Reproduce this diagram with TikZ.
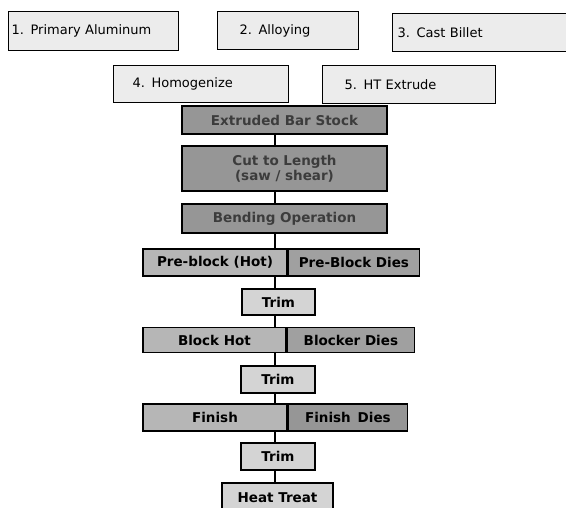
\documentclass[tikz,border=0pt]{standalone}
\usepackage{fontspec}
\setmainfont{DejaVu Sans}
\definecolor{G1}{RGB}{236,236,236}
\definecolor{G2}{RGB}{150,150,150}
\definecolor{G3}{RGB}{182,182,182}
\definecolor{G4}{RGB}{160,160,160}
\definecolor{G5}{RGB}{212,212,212}
\definecolor{T1}{RGB}{60,60,60}
\tikzstyle{topbox}=[draw=black, line width=1.4pt, fill=G1, anchor=north west, align=left, inner ysep=0pt, font=\fontsize{13}{15}\selectfont]
\tikzstyle{stepbox}=[draw=black, line width=1.4pt, inner sep=0pt, align=center, font=\bfseries\fontsize{13.5}{15}\selectfont]
\tikzstyle{link}=[line width=1.2pt, black]

\begin{document}
\begin{tikzpicture}[x=1pt, y=-1pt]
    \useasboundingbox (0,0) rectangle (566,508);
    % raw material steps
    \node[topbox, inner xsep=3pt, text width=164pt, minimum height=39pt] (alum) at (8,11) {1. Primary Aluminum};
    \node[topbox, inner xsep=22pt, text width=97pt, minimum height=38pt] (alloy) at (217,11) {2. Alloying};
    \node[topbox, inner xsep=5pt, text width=173pt, minimum height=38pt] (billet) at (392,13) {3. Cast Billet};
    \node[topbox, inner xsep=19pt, text width=137pt, minimum height=37pt] (homog) at (113,65) {4. Homogenize};
    \node[topbox, inner xsep=22pt, text width=129pt, minimum height=38pt] (extr) at (322,65) {5. HT Extrude};
    % forging line
    \coordinate (spine) at (275,0);
    \node[stepbox, fill=G2, text=T1, minimum width=205pt, minimum height=28pt] (bar) at (284.5,120) {Extruded Bar Stock};
    \node[stepbox, fill=G2, text=T1, minimum width=205pt, minimum height=45pt] (cut) at (284.5,168.5) {Cut to Length\\(saw / shear)};
    \node[stepbox, fill=G2, text=T1, minimum width=205pt, minimum height=29pt] (bend) at (284.5,218.5) {Bending Operation};
    \node[stepbox, fill=G3, minimum width=144pt, minimum height=27pt] (preL) at (215,262.5) {Pre-block (Hot)};
    \node[stepbox, fill=G4, minimum width=131pt, minimum height=27pt, anchor=west] (preR) at (preL.east) {Pre-Block Dies};
    \node[stepbox, fill=G5, minimum width=73pt, minimum height=26pt] (trimA) at (278.5,302) {Trim};
    \node[stepbox, fill=G3, minimum width=143pt, minimum height=25pt] (blkL) at (214.5,340) {Block Hot};
    \node[stepbox, fill=G4, minimum width=127pt, minimum height=25pt, anchor=west] (blkR) at (blkL.east) {Blocker Dies};
    \node[stepbox, fill=G5, minimum width=74pt, minimum height=27pt] (trimB) at (278,379.5) {Trim};
    \node[stepbox, fill=G3, minimum width=144pt, minimum height=27pt] (finL) at (215,417.5) {Finish};
    \node[stepbox, fill=G2, minimum width=119pt, minimum height=27pt, anchor=west] (finR) at (finL.east) {Finish\, Dies};
    \node[stepbox, fill=G5, minimum width=74pt, minimum height=27pt] (trimC) at (278,456.5) {Trim};
    \node[stepbox, fill=G5, minimum width=111pt, minimum height=29pt] (heat) at (277.5,497.5) {Heat Treat};
    % connectors
    \draw[link] (bar.south -| spine) -- (cut.north -| spine);
    \draw[link] (cut.south -| spine) -- (bend.north -| spine);
    \draw[link] (bend.south -| spine) -- (preL.north -| spine);
    \draw[link] (preL.south -| spine) -- (trimA.north -| spine);
    \draw[link] (trimA.south -| spine) -- (blkL.north -| spine);
    \draw[link] (blkL.south -| spine) -- (trimB.north -| spine);
    \draw[link] (trimB.south -| spine) -- (finL.north -| spine);
    \draw[link] (finL.south -| spine) -- (trimC.north -| spine);
    \draw[link] (trimC.south -| spine) -- (heat.north -| spine);
\end{tikzpicture}
\end{document}
